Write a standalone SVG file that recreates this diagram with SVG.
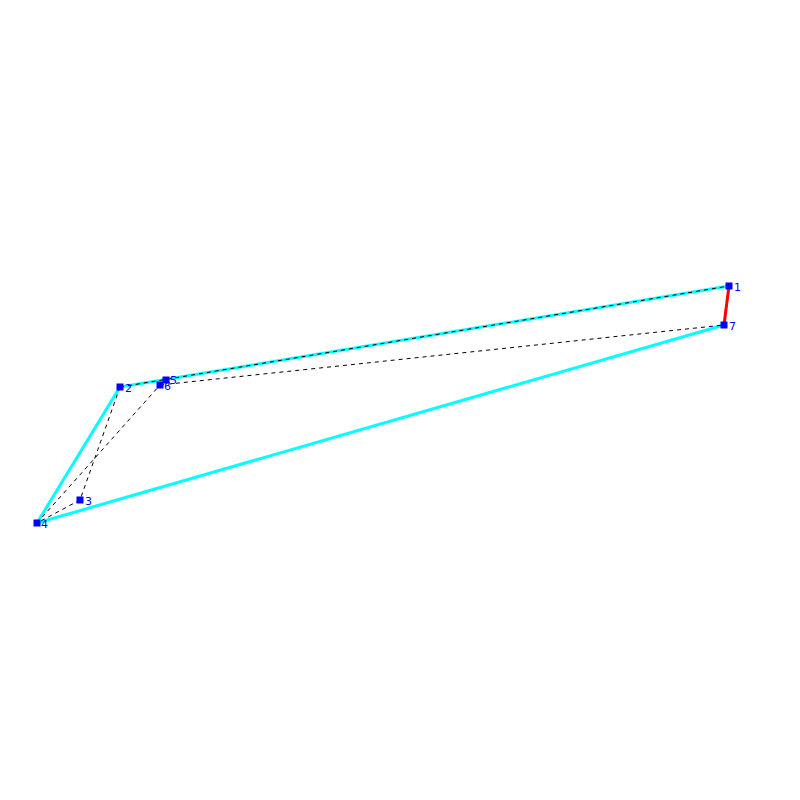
<svg xmlns="http://www.w3.org/2000/svg" width="800" height="800" viewBox="0 0 800 800">
<style>
.c{stroke:#00ffff;stroke-width:3;fill:none}
.r{stroke:#ff0000;stroke-width:3;fill:none}
.d{stroke:#000;stroke-width:1;stroke-dasharray:4,4;fill:none}
.n rect{fill:#0000ff}
.n text{fill:#0000ff;font-family:"DejaVu Sans",sans-serif;font-size:11px}
</style>
<rect width="800" height="800" fill="#fff"/>
<g id="connectors">
<line class="c" x1="120" y1="387" x2="729" y2="286"/>
<line class="c" x1="120" y1="387" x2="37" y2="523"/>
<line class="c" x1="37" y1="523" x2="724" y2="325"/>
<line class="r" x1="729" y1="286" x2="724" y2="325"/>
<line class="d" x1="120" y1="387" x2="729" y2="286"/>
<line class="d" x1="120" y1="387" x2="80" y2="500"/>
<line class="d" x1="80" y1="500" x2="37" y2="523"/>
<line class="d" x1="37" y1="523" x2="160" y2="385"/>
<line class="d" x1="160" y1="385" x2="724" y2="325"/>
</g>
<g id="n1" class="n"><rect x="725.500" y="282.500" width="7" height="7"/><text x="734" y="291">1</text></g>
<g id="n2" class="n"><rect x="116.500" y="383.500" width="7" height="7"/><text x="125" y="392">2</text></g>
<g id="n3" class="n"><rect x="76.500" y="496.500" width="7" height="7"/><text x="85" y="505">3</text></g>
<g id="n4" class="n"><rect x="33.500" y="519.500" width="7" height="7"/><text x="41" y="528">4</text></g>
<g id="n5" class="n"><rect x="162.500" y="376.500" width="7" height="7"/><text x="170" y="384">5</text></g>
<g id="n6" class="n"><rect x="156.500" y="381.500" width="7" height="7"/><text x="164" y="390">6</text></g>
<g id="n7" class="n"><rect x="720.500" y="321.500" width="7" height="7"/><text x="729" y="330">7</text></g>
</svg>
